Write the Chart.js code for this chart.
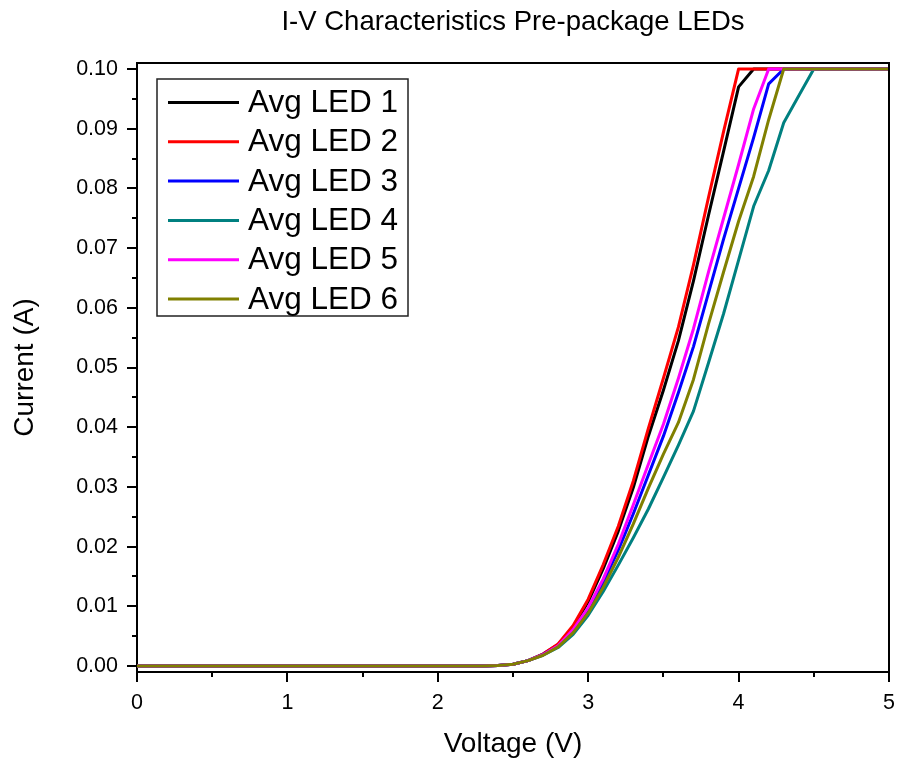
<!DOCTYPE html>
<html>
<head>
<meta charset="utf-8">
<title>I-V Characteristics Pre-package LEDs</title>
<script src="https://cdn.jsdelivr.net/npm/chart.js@4.4.1/dist/chart.umd.min.js"></script>
<style>
  html, body { margin: 0; padding: 0; background: #ffffff; }
  #wrap { width: 897px; height: 761px; position: relative; }
</style>
</head>
<body>
<div id="wrap"><canvas id="chart"></canvas></div>
<script>
// Forward voltage sweep (V)
const voltage = [
  0.0, 0.1, 0.2, 0.3, 0.4, 0.5, 0.6, 0.7, 0.8, 0.9,
  1.0, 1.1, 1.2, 1.3, 1.4, 1.5, 1.6, 1.7, 1.8, 1.9,
  2.0, 2.1, 2.2, 2.3, 2.4, 2.5, 2.6, 2.7, 2.8, 2.9,
  3.0, 3.1, 3.2, 3.3, 3.4, 3.5, 3.6, 3.7, 3.8, 3.9,
  4.0, 4.1, 4.2, 4.3, 4.4, 4.5, 4.6, 4.7, 4.8, 4.9, 5.0
];

// Averaged current (A) for each LED; the supply limits at 0.1 A
const led1 = [
  0, 0, 0, 0, 0, 0, 0, 0, 0, 0,
  0, 0, 0, 0, 0, 0, 0, 0, 0, 0,
  0, 0, 0, 0, 0.0001, 0.0003, 0.0009, 0.0020, 0.0036, 0.0065,
  0.0108, 0.0163, 0.0226, 0.0299, 0.0385, 0.0462, 0.0545, 0.0645, 0.0755, 0.0862,
  0.0970, 0.1, 0.1, 0.1, 0.1, 0.1, 0.1, 0.1, 0.1, 0.1, 0.1
];
const led2 = [
  0, 0, 0, 0, 0, 0, 0, 0, 0, 0,
  0, 0, 0, 0, 0, 0, 0, 0, 0, 0,
  0, 0, 0, 0, 0.0001, 0.0003, 0.0009, 0.0020, 0.0037, 0.0068,
  0.0112, 0.0170, 0.0234, 0.0310, 0.0398, 0.0482, 0.0568, 0.0672, 0.0785, 0.0895,
  0.1, 0.1, 0.1, 0.1, 0.1, 0.1, 0.1, 0.1, 0.1, 0.1, 0.1
];
const led3 = [
  0, 0, 0, 0, 0, 0, 0, 0, 0, 0,
  0, 0, 0, 0, 0, 0, 0, 0, 0, 0,
  0, 0, 0, 0, 0.0001, 0.0003, 0.0009, 0.0019, 0.0033, 0.0059,
  0.0094, 0.0140, 0.0194, 0.0255, 0.0320, 0.0385, 0.0458, 0.0535, 0.0625, 0.0715,
  0.0800, 0.0885, 0.0975, 0.1, 0.1, 0.1, 0.1, 0.1, 0.1, 0.1, 0.1
];
const led4 = [
  0, 0, 0, 0, 0, 0, 0, 0, 0, 0,
  0, 0, 0, 0, 0, 0, 0, 0, 0, 0,
  0, 0, 0, 0, 0.0001, 0.0003, 0.0009, 0.0018, 0.0031, 0.0053,
  0.0085, 0.0125, 0.0169, 0.0215, 0.0263, 0.0316, 0.0370, 0.0427, 0.0508, 0.0590,
  0.0680, 0.0770, 0.0830, 0.0910, 0.0955, 0.1, 0.1, 0.1, 0.1, 0.1, 0.1
];
const led5 = [
  0, 0, 0, 0, 0, 0, 0, 0, 0, 0,
  0, 0, 0, 0, 0, 0, 0, 0, 0, 0,
  0, 0, 0, 0, 0.0001, 0.0003, 0.0009, 0.0019, 0.0034, 0.0061,
  0.0098, 0.0146, 0.0204, 0.0270, 0.0338, 0.0405, 0.0482, 0.0565, 0.0660, 0.0750,
  0.0840, 0.0933, 0.1, 0.1, 0.1, 0.1, 0.1, 0.1, 0.1, 0.1, 0.1
];
const led6 = [
  0, 0, 0, 0, 0, 0, 0, 0, 0, 0,
  0, 0, 0, 0, 0, 0, 0, 0, 0, 0,
  0, 0, 0, 0, 0.0001, 0.0003, 0.0009, 0.0018, 0.0032, 0.0056,
  0.0089, 0.0132, 0.0182, 0.0238, 0.0298, 0.0355, 0.0408, 0.0480, 0.0573, 0.0660,
  0.0745, 0.0820, 0.0915, 0.1, 0.1, 0.1, 0.1, 0.1, 0.1, 0.1, 0.1
];

const seriesNames = ['Avg LED 1', 'Avg LED 2', 'Avg LED 3', 'Avg LED 4', 'Avg LED 5', 'Avg LED 6'];
const seriesColors = ['#000000', '#ff0000', '#0000ff', '#008080', '#ff00ff', '#808000'];
const seriesValues = [led1, led2, led3, led4, led5, led6];

// Axis tick labels
const xTickValues = [0, 1, 2, 3, 4, 5];
const yTickValues = [0.00, 0.01, 0.02, 0.03, 0.04, 0.05, 0.06, 0.07, 0.08, 0.09, 0.10];
const xMinorTicks = [0.5, 1.5, 2.5, 3.5, 4.5];
const yMinorTicks = [0.005, 0.015, 0.025, 0.035, 0.045, 0.055, 0.065, 0.075, 0.085, 0.095];

const FONT = "'Liberation Sans', Arial, Helvetica, sans-serif";

const datasets = seriesValues.map((vals, i) => ({
  label: seriesNames[i],
  data: voltage.map((v, j) => ({ x: v, y: vals[j] })),
  borderColor: seriesColors[i],
  backgroundColor: seriesColors[i],
  borderWidth: 3,
  borderJoinStyle: 'round',
  pointRadius: 0,
  tension: 0,
  fill: false,
  order: seriesValues.length - i
}));

// Closed frame around the plot plus short minor tick marks
const framePlugin = {
  id: 'frame',
  afterDatasetsDraw(chart) {
    const { ctx, chartArea: a, scales } = chart;
    ctx.save();
    ctx.strokeStyle = '#000';
    ctx.lineWidth = 2;
    ctx.beginPath();
    ctx.moveTo(a.left, a.top);
    ctx.lineTo(a.right, a.top);
    ctx.lineTo(a.right, a.bottom);
    ctx.stroke();
    ctx.beginPath();
    xMinorTicks.forEach(v => {
      const px = Math.round(scales.x.getPixelForValue(v));
      ctx.moveTo(px, a.bottom);
      ctx.lineTo(px, a.bottom + 5);
    });
    yMinorTicks.forEach(v => {
      const py = Math.round(scales.y.getPixelForValue(v));
      ctx.moveTo(a.left, py);
      ctx.lineTo(a.left - 5, py);
    });
    ctx.stroke();
    ctx.restore();
  }
};

// Boxed legend placed inside the upper-left of the plot
const boxLegendPlugin = {
  id: 'boxLegend',
  afterDraw(chart) {
    const { ctx, chartArea: a } = chart;
    const left = a.left + 20, top = a.top + 16, w = 251, h = 237;
    ctx.save();
    ctx.fillStyle = '#fff';
    ctx.fillRect(left, top, w, h);
    ctx.strokeStyle = '#222';
    ctx.lineWidth = 1.5;
    ctx.strokeRect(left, top, w, h);
    ctx.font = '31.5px ' + FONT;
    ctx.textBaseline = 'middle';
    ctx.textAlign = 'left';
    chart.data.datasets.forEach((ds, i) => {
      const y = top + 23.5 + i * 39.3;
      ctx.strokeStyle = ds.borderColor;
      ctx.lineWidth = 3;
      ctx.beginPath();
      ctx.moveTo(left + 11, y);
      ctx.lineTo(left + 82, y);
      ctx.stroke();
      ctx.fillStyle = '#000';
      ctx.fillText(ds.label, left + 91, y + 1);
    });
    ctx.restore();
  }
};

new Chart(document.getElementById('chart'), {
  type: 'line',
  data: { datasets },
  options: {
    responsive: true,
    maintainAspectRatio: false,
    animation: false,
    layout: { padding: { top: 0, left: 0, right: 8, bottom: 0 } },
    plugins: {
      legend: { display: false },
      tooltip: { enabled: false },
      title: {
        display: true,
        text: 'I-V Characteristics Pre-package LEDs',
        fullSize: false,
        color: '#000',
        font: { family: FONT, size: 27.5, weight: 'normal' },
        padding: { top: 6, bottom: 24 }
      }
    },
    scales: {
      x: {
        type: 'linear',
        min: 0,
        max: 5,
        afterBuildTicks(scale) { scale.ticks = xTickValues.map(v => ({ value: v })); },
        afterFit(scale) {
          scale.height = 89;
          scale.paddingLeft = 0;
          scale.paddingRight = 0;
        },
        ticks: {
          color: '#000',
          padding: 8,
          maxRotation: 0,
          font: { family: FONT, size: 21.5 },
          callback: v => String(v)
        },
        grid: { display: true, drawOnChartArea: false, drawTicks: true, tickLength: 10, color: '#000', lineWidth: 2 },
        border: { display: true, color: '#000', width: 2 },
        title: {
          display: true,
          text: 'Voltage (V)',
          color: '#000',
          font: { family: FONT, size: 28 },
          padding: { top: 2, bottom: 0 }
        }
      },
      y: {
        type: 'linear',
        min: -0.001,
        max: 0.101,
        afterBuildTicks(scale) { scale.ticks = yTickValues.map(v => ({ value: v })); },
        afterFit(scale) {
          scale.width = 137;
          scale.paddingTop = 0;
          scale.paddingBottom = 0;
        },
        ticks: {
          color: '#000',
          padding: 9,
          font: { family: FONT, size: 21.5 },
          callback: v => Number(v).toFixed(2)
        },
        grid: { display: true, drawOnChartArea: false, drawTicks: true, tickLength: 10, color: '#000', lineWidth: 2 },
        border: { display: true, color: '#000', width: 2 },
        title: {
          display: true,
          text: 'Current (A)',
          color: '#000',
          font: { family: FONT, size: 28 },
          padding: { top: 8, bottom: 0 }
        }
      }
    }
  },
  plugins: [framePlugin, boxLegendPlugin]
});
</script>
</body>
</html>
